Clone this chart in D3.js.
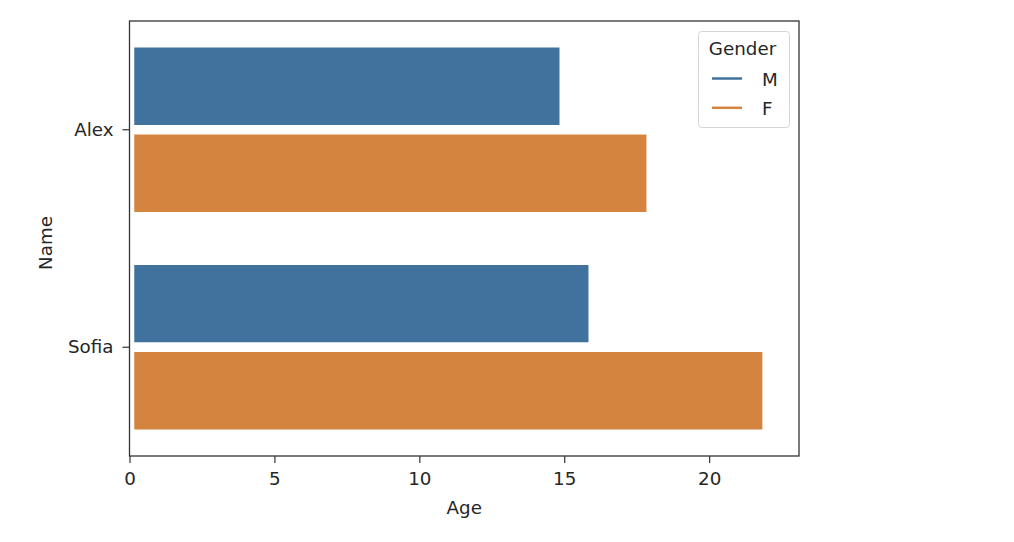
<!DOCTYPE html>
<html><head><meta charset="utf-8">
<script src="https://cdn.jsdelivr.net/npm/d3@7"></script>
<style>body{margin:0;background:#fff}text{font-family:"DejaVu Sans",sans-serif}</style>
</head><body>
<svg id="c" width="1014" height="542"></svg>
<script>
const names = ["Alex", "Sofia"];
const genders = ["M", "F"];
const ageM = [15, 16];
const ageF = [18, 22];
const xTicks = [0, 5, 10, 15, 20];
const colors = {M: "#41729d", F: "#d4843e"};
const FS = "18.3px";

const rows = [];
names.forEach((n, i) => {
  rows.push({name: n, gender: "M", age: ageM[i]});
  rows.push({name: n, gender: "F", age: ageF[i]});
});

const svg = d3.select("#c");
const L = 129.5, R = 799, T = 21, B = 456;
const x = d3.scaleLinear().domain([0, d3.max(rows, d => d.age) * 1.05]).range([L, R]);
const y = d3.scaleBand().domain(names).range([T, B]).paddingInner(0.2).paddingOuter(0.1);
const yh = d3.scaleBand().domain(genders).range([0, y.bandwidth()]);

svg.append("g").selectAll("rect").data(rows).join("rect")
  .attr("x", x(0))
  .attr("y", d => y(d.name) + yh(d.gender))
  .attr("width", d => x(d.age) - x(0))
  .attr("height", yh.bandwidth())
  .attr("fill", d => colors[d.gender])
  .attr("stroke", "#fff").attr("stroke-width", 9.5);

// spines
svg.append("rect").attr("x", L).attr("y", T).attr("width", R - L).attr("height", B - T)
  .attr("fill", "none").attr("stroke", "#333").attr("stroke-width", 1.3);

const xa = svg.append("g").attr("transform", `translate(0,${B})`)
  .call(d3.axisBottom(x).tickValues(xTicks).tickSize(7).tickPadding(9).tickFormat(d3.format("d")));
const ya = svg.append("g").attr("transform", `translate(${L},0)`)
  .call(d3.axisLeft(y).tickSize(7).tickPadding(9));
[xa, ya].forEach(a => {
  a.select(".domain").remove();
  a.selectAll("line").attr("stroke", "#333").attr("stroke-width", 1.2);
  a.selectAll("text").attr("fill", "#262626").style("font-size", FS).style("font-family", "DejaVu Sans");
});

svg.append("text").attr("x", (L + R) / 2).attr("y", 514).attr("text-anchor", "middle")
  .attr("fill", "#262626").style("font-size", FS).text("Age");
svg.append("text").attr("transform", `translate(52,243) rotate(-90)`).attr("text-anchor", "middle")
  .attr("fill", "#262626").style("font-size", FS).text("Name");

// legend
const lg = svg.append("g");
lg.append("rect").attr("x", 698.5).attr("y", 31.5).attr("width", 91).attr("height", 96).attr("rx", 3)
  .attr("fill", "#fff").attr("fill-opacity", 0.8).attr("stroke", "#d6d6d6");
lg.append("text").attr("x", 742.5).attr("y", 55).attr("text-anchor", "middle")
  .attr("fill", "#262626").style("font-size", FS).text("Gender");
genders.forEach((g, i) => {
  const yy = 78.5 + i * 29.3;
  lg.append("line").attr("x1", 712).attr("x2", 742).attr("y1", yy).attr("y2", yy)
    .attr("stroke", colors[g]).attr("stroke-width", 2.5);
  lg.append("text").attr("x", 762).attr("y", yy + 7).attr("fill", "#262626")
    .style("font-size", FS).text(g);
});
</script>
</body></html>
